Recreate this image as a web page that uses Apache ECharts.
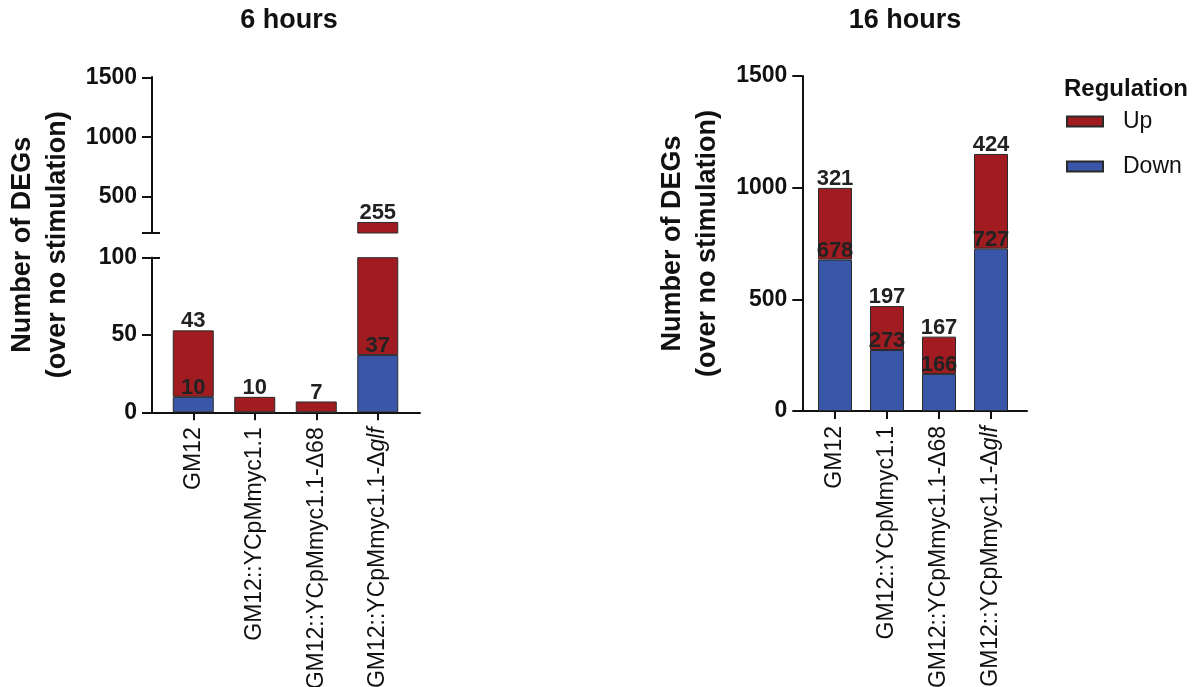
<!DOCTYPE html>
<html><head><meta charset="utf-8">
<script src="https://cdn.jsdelivr.net/npm/echarts@6/dist/echarts.min.js"></script>
<style>html,body{margin:0;padding:0;background:#fff}#c{width:1192px;height:687px}</style>
</head><body><div id="c"></div>
<script>
const categories = ['GM12', 'GM12::YCpMmyc1.1', 'GM12::YCpMmyc1.1-Δ68', 'GM12::YCpMmyc1.1-Δglf'];
const italicSuffix = 'glf';
const down6 = [10, 0, 0, 37];
const up6 = [43, 10, 7, 255];
const down16 = [678, 273, 166, 727];
const up16 = [321, 197, 167, 424];
const panelTitles = ['6 hours', '16 hours'];
const legendTitle = 'Regulation';
const seriesUp = 'Up';
const seriesDown = 'Down';
const yTitle = 'Number of DEGs\n(over no stimulation)';
const lowerTicks6 = [0, 50, 100];
const upperTicks6 = [200, 500, 1000, 1500];
const upperLabels6 = [500, 1000, 1500];
const ticks16 = [0, 500, 1000, 1500];

const FONT = 'Liberation Sans, Arial, Helvetica, sans-serif';
const RED = '#A01C20';
const BLUE = '#3A56A8';
const INK = '#111';

function catLabel(v) {
  if (v.endsWith(italicSuffix)) {
    return '{n|' + v.slice(0, v.length - italicSuffix.length) + '}{i|' + italicSuffix + '}';
  }
  return '{n|' + v + '}';
}

const labelBase = { position: 'top', distance: -2, color: '#222', fontFamily: FONT, fontWeight: 'bold', fontSize: 22 };

function downItems(down, lo, hi) {
  return down.map(d => ({ value: d, label: { show: d > 0 && d >= lo && d <= hi } }));
}
function upItems(down, up, lo, hi) {
  return up.map((u, i) => {
    const t = down[i] + u;
    return { value: u, label: { show: u > 0 && t >= lo && t <= hi } };
  });
}

function catAxis(gridIndex, show) {
  return {
    type: 'category', gridIndex, data: categories,
    axisLine: { show: false },
    axisTick: { show: show, alignWithLabel: true, length: 8, lineStyle: { color: INK, width: 2 } },
    axisLabel: {
      show: show, rotate: 90, margin: 15, interval: 0,
      formatter: catLabel,
      rich: {
        n: { fontFamily: FONT, fontSize: 23, color: INK },
        i: { fontFamily: FONT, fontSize: 23, color: INK, fontStyle: 'italic' }
      }
    },
    splitLine: { show: false }
  };
}
function frameX(gridIndex) {
  return {
    type: 'value', gridIndex, min: 0, max: 1,
    axisLine: { show: true, lineStyle: { color: INK, width: 2 } },
    axisTick: { show: false }, axisLabel: { show: false }, splitLine: { show: false }
  };
}
function frameY(gridIndex) {
  return {
    type: 'value', gridIndex, min: 0, max: 1, position: 'left',
    axisLine: { show: false }, axisTick: { show: false }, axisLabel: { show: false }, splitLine: { show: false },
    name: yTitle, nameLocation: 'middle', nameGap: 77,
    nameTextStyle: { fontFamily: FONT, fontWeight: 'bold', fontSize: 27, color: INK, lineHeight: 35 }
  };
}
function valAxis(gridIndex, min, max, tickVals, labelVals, offset) {
  return {
    type: 'value', gridIndex, min, max, offset, position: 'left',
    axisLine: { show: true, lineStyle: { color: INK, width: 2 } },
    axisTick: { show: true, length: 10, customValues: tickVals, lineStyle: { color: INK, width: 2 } },
    axisLabel: { show: true, customValues: labelVals, margin: 15, formatter: v => String(v),
      fontFamily: FONT, fontWeight: 'bold', fontSize: 23, color: INK },
    splitLine: { show: false }
  };
}
function breakAxis(gridIndex, min, max, val, offset) {
  return {
    type: 'value', gridIndex, min, max, offset, position: 'left',
    axisLine: { show: true, lineStyle: { color: INK, width: 2 } },
    axisTick: { show: true, inside: true, length: 8, customValues: [val], lineStyle: { color: INK, width: 2 } },
    axisLabel: { show: false }, splitLine: { show: false }
  };
}

function bar(name, xi, yi, stack, data, color, width) {
  return {
    type: 'bar', name, xAxisIndex: xi, yAxisIndex: yi, stack, data, barWidth: width,
    clip: true,
    itemStyle: { color, borderColor: '#2a2a2a', borderWidth: 1 },
    label: labelBase
  };
}

function grid(left, right, top, bottom) {
  return { left, right, top, bottom, containLabel: false, outerBoundsMode: 'none' };
}

const option = {
  animation: false,
  backgroundColor: '#fff',
  textStyle: { fontFamily: FONT },
  title: [
    { text: panelTitles[0], left: 289, top: 7, textAlign: 'center', padding: 0,
      textStyle: { fontFamily: FONT, fontWeight: 'bold', fontSize: 27, color: INK } },
    { text: panelTitles[1], left: 905, top: 7, textAlign: 'center', padding: 0,
      textStyle: { fontFamily: FONT, fontWeight: 'bold', fontSize: 27, color: INK } },
    { text: legendTitle, left: 1064, top: 77, padding: 0,
      textStyle: { fontFamily: FONT, fontWeight: 'bold', fontSize: 24, color: INK } }
  ],
  legend: {
    data: [seriesUp, seriesDown], orient: 'vertical', left: 1066, top: 110, padding: 0,
    itemWidth: 36, itemHeight: 10, itemGap: 22, icon: 'rect',
    textStyle: { fontFamily: FONT, fontSize: 23, color: INK, padding: [0, 0, 0, 15] }
  },
  grid: [
    grid(162.5, 783.5, 257.7, 274.7),
    grid(162.5, 783.5, 77.3, 454),
    grid(152, 772, 77.3, 274.7),
    grid(809, 175, 76, 276),
    grid(802.3, 165, 76, 276)
  ],
  xAxis: [catAxis(0, true), catAxis(1, false), frameX(2), catAxis(3, true), frameX(4)],
  yAxis: [
    valAxis(0, 0, 100, lowerTicks6, lowerTicks6, 10.5),
    breakAxis(0, 0, 100, 100, 10.5),
    valAxis(1, 200, 1500, upperTicks6, upperLabels6, 10.5),
    breakAxis(1, 200, 1500, 200, 10.5),
    frameY(2),
    valAxis(3, 0, 1500, ticks16, ticks16, 6.7),
    frameY(4)
  ],
  series: [
    bar(seriesDown, 0, 0, 'h6lo', downItems(down6, 0, 100), BLUE, 41),
    bar(seriesUp, 0, 0, 'h6lo', upItems(down6, up6, 0, 100), RED, 41),
    bar(seriesDown, 1, 2, 'h6hi', downItems(down6, 200, 1500), BLUE, 41),
    bar(seriesUp, 1, 2, 'h6hi', upItems(down6, up6, 200, 1500), RED, 41),
    bar(seriesDown, 3, 5, 'h16', downItems(down16, 0, 1500), BLUE, 34),
    bar(seriesUp, 3, 5, 'h16', upItems(down16, up16, 0, 1500), RED, 34)
  ]
};
const chart = echarts.init(document.getElementById('c'), null, { renderer: 'canvas' });
chart.setOption(option);
</script>
</body></html>
